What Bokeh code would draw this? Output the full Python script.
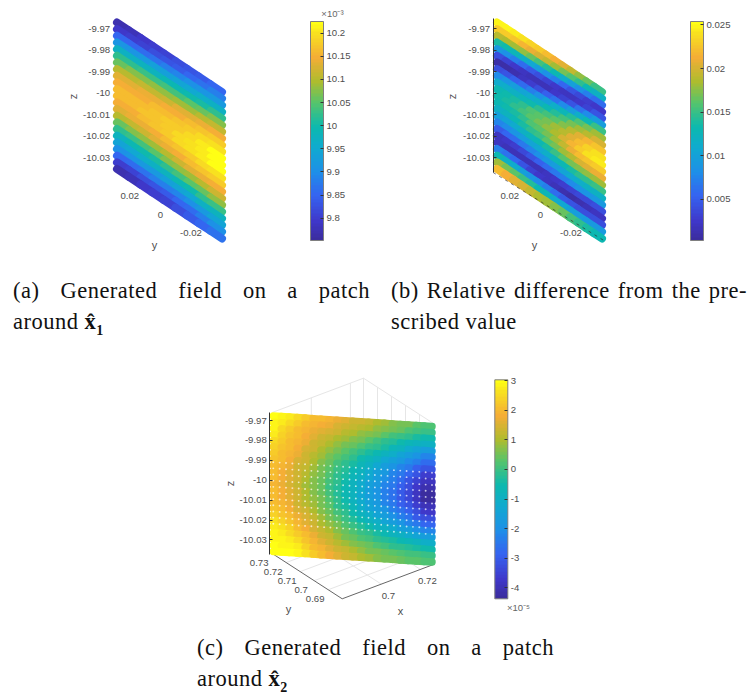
import numpy as np
from bokeh.plotting import figure
from bokeh.embed import file_html
from bokeh.resources import INLINE
from bokeh.layouts import column, row
from bokeh.models import (Range1d, LinearColorMapper, ColorBar, FixedTicker, Div, Spacer,
                          ColumnDataSource)
from bokeh.core.properties import value

STOPS = [0.0, 0.08, 0.2, 0.31, 0.42, 0.52, 0.63, 0.73, 0.84, 0.95, 1.0]
STOP_RGB = [(0x3b,0x2d,0x9e),(0x3f,0x37,0xc9),(0x35,0x63,0xf0),(0x1e,0x8f,0xe8),(0x10,0xaa,0xd0),
            (0x0c,0xb9,0xae),(0x55,0xc4,0x6c),(0xae,0xbc,0x2e),(0xf5,0xad,0x36),(0xf8,0xe0,0x20),
            (0xff,0xff,0x14)]
_t = [i / 63 for i in range(64)]
PALETTE = ["#%02x%02x%02x" % tuple(int(round(np.interp(t, STOPS, [c[k] for c in STOP_RGB]))) for k in range(3))
           for t in _t]

z_ticks = [-9.97, -9.98, -9.99, -10.0, -10.01, -10.02, -10.03]
z_tick_labels = ["-9.97", "-9.98", "-9.99", "-10", "-10.01", "-10.02", "-10.03"]
y_ticks_ab = [0.02, 0.0, -0.02]
y_tick_labels_ab = ["0.02", "0", "-0.02"]
x_ticks_c = [0.7, 0.72]
x_tick_labels_c = ["0.7", "0.72"]
y_ticks_c = [0.73, 0.72, 0.71, 0.7, 0.69]
y_tick_labels_c = ["0.73", "0.72", "0.71", "0.7", "0.69"]

cb_ticks_a = [9.8, 9.85, 9.9, 9.95, 10.0, 10.05, 10.1, 10.15, 10.2]
cb_labels_a = ["9.8", "9.85", "9.9", "9.95", "10", "10.05", "10.1", "10.15", "10.2"]
cb_ticks_b = [5, 10, 15, 20, 25]
cb_labels_b = ["0.005", "0.01", "0.015", "0.02", "0.025"]
cb_ticks_c = [-4, -3, -2, -1, 0, 1, 2, 3]
cb_labels_c = ["-4", "-3", "-2", "-1", "0", "1", "2", "3"]

# panel (a): field, x 1e-3; rows top to bottom, columns left to right
field_a = [
[9.77,9.78,9.79,9.80,9.81,9.82,9.83,9.84,9.85],
[9.79,9.80,9.81,9.82,9.83,9.84,9.85,9.87,9.88],
[9.85,9.85,9.86,9.87,9.88,9.89,9.90,9.91,9.92],
[9.91,9.91,9.92,9.93,9.93,9.94,9.95,9.96,9.97],
[9.97,9.97,9.98,9.98,9.99,9.99,10.00,10.01,10.02],
[10.02,10.02,10.03,10.03,10.04,10.04,10.05,10.06,10.07],
[10.06,10.07,10.07,10.08,10.08,10.09,10.09,10.10,10.11],
[10.10,10.10,10.11,10.11,10.12,10.13,10.13,10.14,10.15],
[10.13,10.13,10.14,10.14,10.15,10.15,10.16,10.17,10.18],
[10.15,10.15,10.15,10.16,10.16,10.17,10.18,10.19,10.20],
[10.16,10.16,10.16,10.17,10.18,10.18,10.19,10.21,10.22],
[10.16,10.16,10.17,10.17,10.18,10.19,10.20,10.21,10.22],
[10.15,10.15,10.16,10.17,10.18,10.19,10.20,10.21,10.22],
[10.13,10.14,10.14,10.15,10.16,10.17,10.18,10.19,10.20],
[10.10,10.11,10.12,10.13,10.14,10.15,10.16,10.17,10.18],
[10.06,10.07,10.08,10.09,10.10,10.12,10.13,10.14,10.15],
[10.02,10.03,10.04,10.05,10.07,10.08,10.09,10.10,10.12],
[9.98,9.99,10.00,10.01,10.02,10.04,10.05,10.06,10.08],
[9.94,9.95,9.96,9.97,9.98,9.99,10.00,10.02,10.03],
[9.90,9.91,9.92,9.92,9.93,9.94,9.95,9.97,9.98],
[9.85,9.86,9.87,9.88,9.88,9.89,9.90,9.92,9.94],
[9.80,9.81,9.82,9.83,9.84,9.85,9.86,9.88,9.90],
[9.77,9.78,9.79,9.80,9.81,9.82,9.84,9.85,9.87]]

# panel (b): relative difference, x 1e-3
field_b = [
[25,24.8,24.4,24,23.4,22.8,22,21.3,20.4,19.2,17.8,16.4,15],
[23,22.7,22.3,21.8,21,20.2,19.3,18,16.8,15.6,14.5,13.2,12],
[19,18.7,18.3,17.6,16.6,15.5,14.2,13,11.6,10,8.5,7.2,6],
[14,13.4,12.6,11.7,10.6,9.5,8.3,7,5.7,4.6,3.6,3,2.5],
[9,8.2,7.2,6,5,4,3.2,2.5,2.1,2.1,2.6,3.4,4.5],
[4,3.2,2.5,1.9,1.6,1.5,1.8,2.5,3.4,4.6,6.2,7.8,9.5],
[1,1,1.3,2,3,4,5.2,6.5,8,9.6,11.4,13.2,15],
[4,4.3,5.1,6,7.2,8.5,9.8,11.4,12.8,14.2,15.8,17,18],
[8,8.6,9.4,10.2,11,12,13,14.1,15.4,16.8,18,19,20],
[11,11.4,12,12.8,13.6,14.6,15.4,16.2,17.4,18.8,20.4,21.6,22.5],
[13,13.4,14,14.8,15.6,16.2,17,18,19,20.4,22,23.2,24],
[13.5,13.9,14.6,15.3,16,16.8,17.6,18.6,20,21.6,23,24,24.5],
[13,13.4,14,14.8,15.6,16.2,17,18,19.4,20.8,22,22.6,23],
[12,12.4,13,13.8,14.6,15.2,16,17,18,19,20,20.6,21],
[10,10.4,11,11.8,12.6,13.2,14,15,16,17,17.5,17.8,18],
[7.5,7.9,8.6,9.4,10.2,10.8,11.6,12.5,13.2,13.9,14.5,14.8,15],
[5,5.4,6,6.8,7.6,8.2,9,9.6,10.2,11,11.6,11.8,12],
[2,2.4,3,3.8,4.6,5.2,6,6.6,7.2,8,8.6,8.8,9],
[2,1.7,1.5,1.5,1.6,1.8,2.2,2.6,2.9,3.2,3.6,3.8,4],
[7,6.3,5.4,4.4,3.4,2.6,2,1.6,1.2,1,1.4,1.7,2],
[13,12,11,10,8.8,7.8,7,5.8,5,4.5,4.1,4,4],
[18,17,16,15.2,14.2,13.2,12.5,11.2,10.5,10,9.6,9.2,9],
[22,21.3,20.6,20,19.3,18.6,18,17.2,16.5,15.5,14.8,14,13]]

# panel (c): field, x 1e-5
field_c = [
[3.0,2.9,2.7,2.5,2.3,2.1,2.0,1.9,1.7,1.6,1.4,1.3,1.2,1.0,0.9,0.7,0.6,0.5,0.3,0.2],
[2.9,2.7,2.5,2.3,2.1,1.9,1.8,1.7,1.5,1.4,1.2,1.1,1.0,0.8,0.7,0.5,0.4,0.2,0.1,0.0],
[2.8,2.5,2.3,2.1,1.9,1.7,1.6,1.5,1.3,1.1,1.0,0.8,0.7,0.5,0.3,0.1,0.0,-0.2,-0.4,-0.5],
[2.7,2.4,2.2,2.0,1.8,1.6,1.4,1.2,1.0,0.9,0.7,0.5,0.3,0.1,-0.1,-0.3,-0.5,-0.7,-0.9,-1.0],
[2.5,2.3,2.1,1.9,1.7,1.4,1.2,1.0,0.8,0.6,0.4,0.2,0.0,-0.2,-0.4,-0.7,-0.9,-1.2,-1.4,-1.6],
[2.4,2.2,2.0,1.8,1.5,1.3,1.0,0.8,0.5,0.3,0.1,-0.2,-0.4,-0.6,-0.9,-1.1,-1.4,-1.7,-1.9,-2.2],
[2.3,2.1,1.9,1.7,1.4,1.1,0.9,0.6,0.3,0.1,-0.2,-0.5,-0.7,-1.0,-1.3,-1.5,-1.8,-2.1,-2.4,-2.7],
[2.2,2.0,1.8,1.5,1.3,1.0,0.7,0.4,0.1,-0.1,-0.4,-0.7,-1.0,-1.3,-1.6,-1.9,-2.2,-2.5,-2.9,-3.2],
[2.1,1.9,1.7,1.4,1.2,0.9,0.6,0.3,0.0,-0.3,-0.6,-0.9,-1.2,-1.5,-1.8,-2.2,-2.5,-2.8,-3.2,-3.6],
[2.0,1.8,1.6,1.3,1.1,0.8,0.5,0.2,-0.1,-0.4,-0.7,-1.0,-1.3,-1.7,-2.0,-2.3,-2.7,-3.1,-3.5,-3.9],
[2.0,1.8,1.6,1.3,1.0,0.7,0.4,0.1,-0.2,-0.5,-0.8,-1.2,-1.5,-1.8,-2.2,-2.5,-2.9,-3.3,-3.7,-4.1],
[1.9,1.7,1.5,1.2,0.9,0.7,0.4,0.0,-0.3,-0.6,-0.9,-1.2,-1.6,-1.9,-2.3,-2.6,-3.0,-3.4,-3.8,-4.3],
[2.0,1.8,1.6,1.3,1.0,0.7,0.4,0.1,-0.3,-0.6,-0.9,-1.3,-1.6,-1.9,-2.3,-2.6,-3.0,-3.4,-3.8,-4.3],
[2.0,1.8,1.6,1.3,1.0,0.8,0.5,0.2,-0.2,-0.5,-0.8,-1.2,-1.5,-1.8,-2.2,-2.5,-2.9,-3.2,-3.6,-4.0],
[2.1,1.9,1.7,1.4,1.1,0.9,0.6,0.3,-0.1,-0.4,-0.7,-1.1,-1.4,-1.6,-1.9,-2.3,-2.6,-2.9,-3.3,-3.7],
[2.2,2.0,1.8,1.5,1.3,1.0,0.7,0.4,0.1,-0.2,-0.5,-0.8,-1.1,-1.4,-1.7,-2.0,-2.3,-2.6,-3.0,-3.3],
[2.4,2.2,2.0,1.7,1.5,1.2,0.9,0.6,0.3,0.0,-0.3,-0.6,-0.8,-1.1,-1.4,-1.6,-1.9,-2.2,-2.5,-2.8],
[2.6,2.4,2.2,1.9,1.6,1.3,1.0,0.8,0.5,0.2,0.0,-0.3,-0.5,-0.8,-1.0,-1.2,-1.5,-1.7,-2.0,-2.2],
[2.7,2.6,2.4,2.1,1.8,1.5,1.2,1.0,0.7,0.4,0.2,0.0,-0.2,-0.4,-0.6,-0.8,-1.0,-1.2,-1.4,-1.6],
[2.8,2.7,2.5,2.3,2.0,1.7,1.4,1.2,0.9,0.6,0.4,0.2,0.1,-0.1,-0.3,-0.4,-0.6,-0.7,-0.9,-1.1],
[2.9,2.8,2.7,2.5,2.2,1.9,1.6,1.4,1.1,0.9,0.7,0.5,0.4,0.2,0.1,-0.1,-0.2,-0.3,-0.4,-0.5],
[3.0,2.9,2.8,2.7,2.4,2.1,1.9,1.6,1.4,1.2,1.0,0.8,0.6,0.5,0.4,0.3,0.2,0.1,0.1,0.0],
[3.0,3.0,3.0,2.8,2.6,2.3,2.1,1.8,1.6,1.4,1.2,1.0,0.9,0.7,0.6,0.5,0.4,0.3,0.3,0.2]]

TXT = "#4d4d4d"
FONT = value("Liberation Sans")


class Panel:
    """Figure whose ranges are fixed from page-pixel calibration of the reference."""

    def __init__(self, fig_left, fig_top, w, h, mbl, mbr, mbt, mbb, xcal, zcal):
        self.fl, self.ft = fig_left + mbl, fig_top + mbt
        self.fr, self.fb = fig_left + w - mbr, fig_top + h - mbb
        self.xcal, self.zcal = xcal, zcal  # (px, val, val per px)
        self.p = figure(width=w, height=h, output_backend="svg", toolbar_location=None,
                        x_range=Range1d(self.X(self.fl), self.X(self.fr)),
                        y_range=Range1d(self.Z(self.fb), self.Z(self.ft)),
                        x_axis_location=None, min_border_left=mbl, min_border_right=mbr,
                        min_border_top=mbt, min_border_bottom=mbb,
                        outline_line_color=None, background_fill_color=None)
        self.p.grid.visible = False

    def X(self, px):
        return self.xcal[1] + (px - self.xcal[0]) * self.xcal[2]

    def Z(self, py):
        return self.zcal[1] - (py - self.zcal[0]) * self.zcal[2]

    def surface(self, field, left, right, top, bottom, drop, low, high, lw):
        field = np.asarray(field, float)
        nr, nc = field.shape
        xn = np.linspace(self.X(left), self.X(right), nc + 1)
        zr = np.linspace(self.Z(top), self.Z(bottom), nr)
        shear = drop * self.zcal[2] / (xn[-1] - xn[0])
        x0, x1, z0, z1, v = [], [], [], [], []
        for r in range(nr):
            for c in range(nc):
                x0.append(xn[c]); x1.append(xn[c + 1])
                z0.append(zr[r] - shear * (xn[c] - xn[0]))
                z1.append(zr[r] - shear * (xn[c + 1] - xn[0]))
                v.append(field[r, c])
        mapper = LinearColorMapper(palette=PALETTE, low=low, high=high)
        src = ColumnDataSource(dict(x0=x0, x1=x1, y0=z0, y1=z1, v=v))
        self.p.segment("x0", "y0", "x1", "y1", source=src, line_width=lw, line_cap="round",
                       line_color={"field": "v", "transform": mapper})
        self.mapper = mapper
        self.xn, self.zr, self.shear = xn, zr, shear

    def zaxis(self, px, top, bottom, line_color):
        ax = self.p.yaxis[0]
        ax.fixed_location = self.X(px)
        ax.bounds = (self.Z(bottom), self.Z(top))
        ax.ticker = FixedTicker(ticks=z_ticks)
        ax.major_label_overrides = dict(zip(z_ticks, z_tick_labels))
        ax.major_label_text_font = "Liberation Sans"
        ax.major_label_text_font_size = "9.6px"
        ax.major_label_text_color = TXT
        ax.major_label_standoff = 3
        ax.major_tick_in = 3
        ax.major_tick_out = 0
        ax.major_tick_line_color = line_color
        ax.axis_line_color = line_color
        ax.minor_tick_line_color = None

    def colorbar(self, left, top, bottom, ticks, labels):
        cb = ColorBar(color_mapper=self.mapper, ticker=FixedTicker(ticks=ticks),
                      major_label_overrides=dict(zip(ticks, labels)),
                      width=13, height=int(round(bottom - top)), padding=0, margin=0,
                      location=(left - self.fl, self.fb - bottom),
                      major_label_text_font="Liberation Sans",
                      major_label_text_font_size="9.6px", major_label_text_color=TXT,
                      major_tick_in=3, major_tick_line_color="#333333",
                      minor_tick_line_color=None, bar_line_color="#7f7f7f",
                      label_standoff=3, background_fill_color=None, border_line_color=None)
        self.p.add_layout(cb, "center")

    def label(self, px, py, text, size="11px", angle=0.0, color=TXT):
        self.p.text([self.X(px)], [self.Z(py)], text=[text], text_font=FONT,
                    text_font_size=size, text_color=color, text_align="center",
                    text_baseline="middle", angle=angle)


# ---------- panel (a)
A = Panel(8, 8, 375, 264, 52, 5, 0, 3,
          (112.7, 0.0367, -0.0734 / 112.3), (28.0, -9.97, 0.01 / 21.5))
A.surface(field_a, 116.5, 221.5, 22, 168.5, 69.5, 9.752, 10.225, 8)
A.zaxis(112.7, 18, 172, None)
A.colorbar(310, 20.7, 240, cb_ticks_a, cb_labels_a)
A.p.text(y_ticks_ab,
         [A.Z(172) - 68 * A.zcal[2] * (0.0367 - v) / 0.0734 for v in y_ticks_ab],
         text=y_tick_labels_ab, x_offset=-9, y_offset=8, text_font=FONT, text_font_size="9.6px",
         text_color=TXT, text_align="center", text_baseline="middle")
A.label(154, 244, "y")
A.label(72, 96, "z", angle=np.pi / 2)
A.label(332, 13, "×10⁻³", size="9.5px", color="#666666")

# ---------- panel (b)
B = Panel(383, 8, 359, 264, 57, 4, 0, 3,
          (492.7, 0.0367, -0.0734 / 112.3), (28.0, -9.97, 0.01 / 21.5))
B.surface(field_b, 496.5, 601.5, 22, 168.5, 69.5, 0.3, 25.4, 8)
B.zaxis(492.7, 18, 172, "#333333")
B.colorbar(690, 20.7, 240, cb_ticks_b, cb_labels_b)
B.p.text(y_ticks_ab,
         [B.Z(172) - 68 * B.zcal[2] * (0.0367 - v) / 0.0734 for v in y_ticks_ab],
         text=y_tick_labels_ab, x_offset=-9, y_offset=8, text_font=FONT, text_font_size="9.6px",
         text_color=TXT, text_align="center", text_baseline="middle")
B.p.segment([0.0367], [B.Z(172)], [-0.0367], [B.Z(241)], line_color="#333333", line_width=1,
            line_dash="3 4", line_alpha=0.7)
B.label(534, 244, "y")
B.label(451, 96, "z", angle=np.pi / 2)

# ---------- panel (c)
C = Panel(160, 340, 400, 292, 60, 5, 3, 3,
          (269.3, 0.68, 0.0467 / 165.7), (420.0, -9.97, 0.01 / 19.9))


def proj(xv, yv, up=0.0):
    """Page pixels of a point of the 3-D box; up = height above the floor in pixels."""
    return (341.7 + (xv - 0.68) * 91.3 / 0.0467 - (yv - 0.68) * 70 / 0.05,
            598.3 - (xv - 0.68) * 34.3 / 0.0467 - (yv - 0.68) * 45.3 / 0.05 - up)


X_END, Y_END = 0.7267, 0.73
WALL = 141.0
gx, gz = [], []


def seg(a, b):
    gx.append([C.X(a[0]), C.X(b[0])])
    gz.append([C.Z(a[1]), C.Z(b[1])])


for xv in x_ticks_c + [X_END]:
    seg(proj(xv, 0.68), proj(xv, Y_END))
    seg(proj(xv, Y_END), proj(xv, Y_END, WALL))
for yv in y_ticks_c:
    seg(proj(0.68, yv), proj(X_END, yv))
    seg(proj(X_END, yv), proj(X_END, yv, WALL))
seg(proj(0.68, Y_END, WALL), proj(X_END, Y_END, WALL))
seg(proj(X_END, Y_END, WALL), proj(X_END, 0.68, WALL))
C.p.multi_line(gx, gz, line_color="#e6e6e6", line_width=1)

ax_pts = [proj(0.68, Y_END), proj(0.68, 0.68), proj(X_END, 0.68)]
C.p.line([C.X(a[0]) for a in ax_pts], [C.Z(a[1]) for a in ax_pts], line_color="#666666", line_width=1)

C.surface(field_c, 272.8, 431.5, 415.5, 551, 10.5, -4.37, 3.03, 7.5)

# small gaps between the dots in the middle of the patch
hx, hz = [], []
xs = np.linspace(C.xn[0], C.xn[-1], 26)
for r in range(7, 18):
    for xv in xs:
        hx.append(xv)
        hz.append(0.5 * (C.zr[r] + C.zr[r + 1]) - C.shear * (xv - C.xn[0]))
C.p.scatter(hx, hz, marker="circle", size=1.9, fill_color="white", line_color=None, fill_alpha=0.7)

C.zaxis(269.3, 412, 554, "#333333")
C.colorbar(494.3, 379, 598.3, cb_ticks_c, cb_labels_c)
lab = [proj(v, 0.68) for v in x_ticks_c]
C.p.text([C.X(a[0] + 7) for a in lab], [C.Z(a[1] + 12) for a in lab], text=x_tick_labels_c,
         text_font=FONT, text_font_size="9.6px", text_color=TXT, text_align="center",
         text_baseline="middle")
lab = [proj(0.68, v) for v in y_ticks_c]
C.p.text([C.X(a[0] - 13) for a in lab], [C.Z(a[1] + 9) for a in lab], text=y_tick_labels_c,
         text_font=FONT, text_font_size="9.6px", text_color=TXT, text_align="center",
         text_baseline="middle")
C.label(400, 610, "x")
C.label(288, 608, "y")
C.label(229, 483, "z", angle=np.pi / 2)
C.label(518, 607, "×10⁻⁵", size="9.5px", color="#666666")


# ---------- captions
def caption(line1, line2, left, width, top, box_w, box_h):
    st = ("font-family:'Liberation Serif';font-size:22.5px;line-height:31px;color:#111;"
          "white-space:normal;letter-spacing:0.5px;")
    html = (f"<div style=\"position:absolute;left:{left}px;top:{top}px;width:{width}px;\">"
            f"<div style=\"{st}text-align:justify;text-align-last:justify;\">{line1}</div>"
            f"<div style=\"{st}\">{line2}</div></div>")
    return Div(text=html, width=box_w, height=box_h, margin=(0, 0, 0, 0))


sub = "<sub style='font-size:14px;line-height:0'>%s</sub>"
div_a = caption("(a) Generated field on a patch", "around <b>x&#770;" + sub % "1" + "</b>", 5, 357, 3, 375, 68)
div_b = caption("(b) Relative difference from the pre-", "scribed value", 8, 356, 3, 359, 68)
div_c = caption("(c) Generated field on a patch", "around <b>x&#770;" + sub % "2" + "</b>", 37, 357, 0, 400, 53)

page = column(row(A.p, B.p), row(div_a, div_b), row(Spacer(width=152, height=292), C.p),
              row(Spacer(width=152, height=53), div_c), spacing=0, margin=(8, 0, 0, 8))
open("out.html", "w").write(file_html(page, INLINE))
